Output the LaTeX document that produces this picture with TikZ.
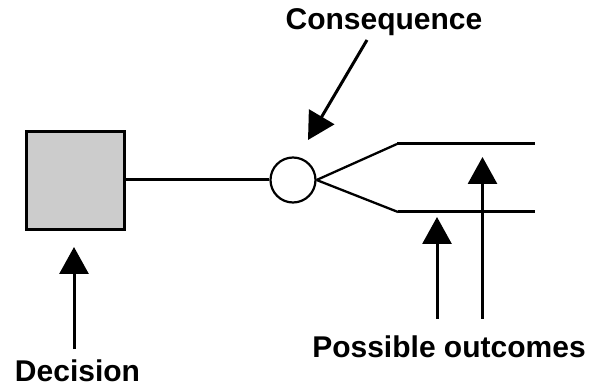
\documentclass[tikz,border=0pt]{standalone}
\usepackage{fontspec}
\setmainfont{Liberation Sans}
\usetikzlibrary{arrows.meta}
\tikzset{
  choicebox/.style={draw=black, fill=black!20, line width=3pt, minimum size=98pt, inner sep=0pt},
  chancenode/.style={draw=black, fill=white, circle, line width=2.2pt, minimum size=45pt, inner sep=0pt},
  branch/.style={line width=3pt},
  fork/.style={line width=2.3pt},
  pointer/.style={line width=3pt, -{Triangle[length=27pt,width=29pt]}},
  caption/.style={font=\fontsize{30}{35}\selectfont\bfseries, anchor=base, inner sep=0pt}
}
\begin{document}
\begin{tikzpicture}[x=1pt,y=-1pt]
  \useasboundingbox (0,0) rectangle (589,387);

  % decision square and chance circle
  \node[choicebox] (dec) at (75.5,180.5) {};
  \node[chancenode] (cir) at (293,180) {};
  \draw[branch] (dec.east |- cir.west) -- (cir.west);

  % two outcome branches
  \coordinate (up) at (397,144);
  \coordinate (upend) at (535,144);
  \coordinate (lo) at (398,212);
  \coordinate (loend) at (535,212);
  \draw[fork] (cir.east) -- (up);
  \draw[fork] (cir.east) -- (lo);
  \draw[branch] (up) -- (upend);
  \draw[branch] (lo) -- (loend);

  % labels
  \node[caption] (lblcons) at (384,30) {Consequence};
  \node[caption] (lbldec) at (77.5,381.5) {Decision};
  \node[caption] (lblout) at (449,357) {Possible outcomes};

  % pointers
  \coordinate (ctail) at (367,40);
  \coordinate (ctip) at (308,140);
  \draw[pointer] (ctail) -- (ctip);

  \coordinate (dtail) at (74,349);
  \coordinate (dtip) at (74,247);
  \draw[pointer] (dtail) -- (dtip);

  \coordinate (o1tail) at (437,319);
  \coordinate (o1tip) at (437,217);
  \draw[pointer] (o1tail) -- (o1tip);

  \coordinate (o2tail) at (482.5,319);
  \coordinate (o2tip) at (482.5,157);
  \draw[pointer] (o2tail) -- (o2tip);
\end{tikzpicture}
\end{document}
